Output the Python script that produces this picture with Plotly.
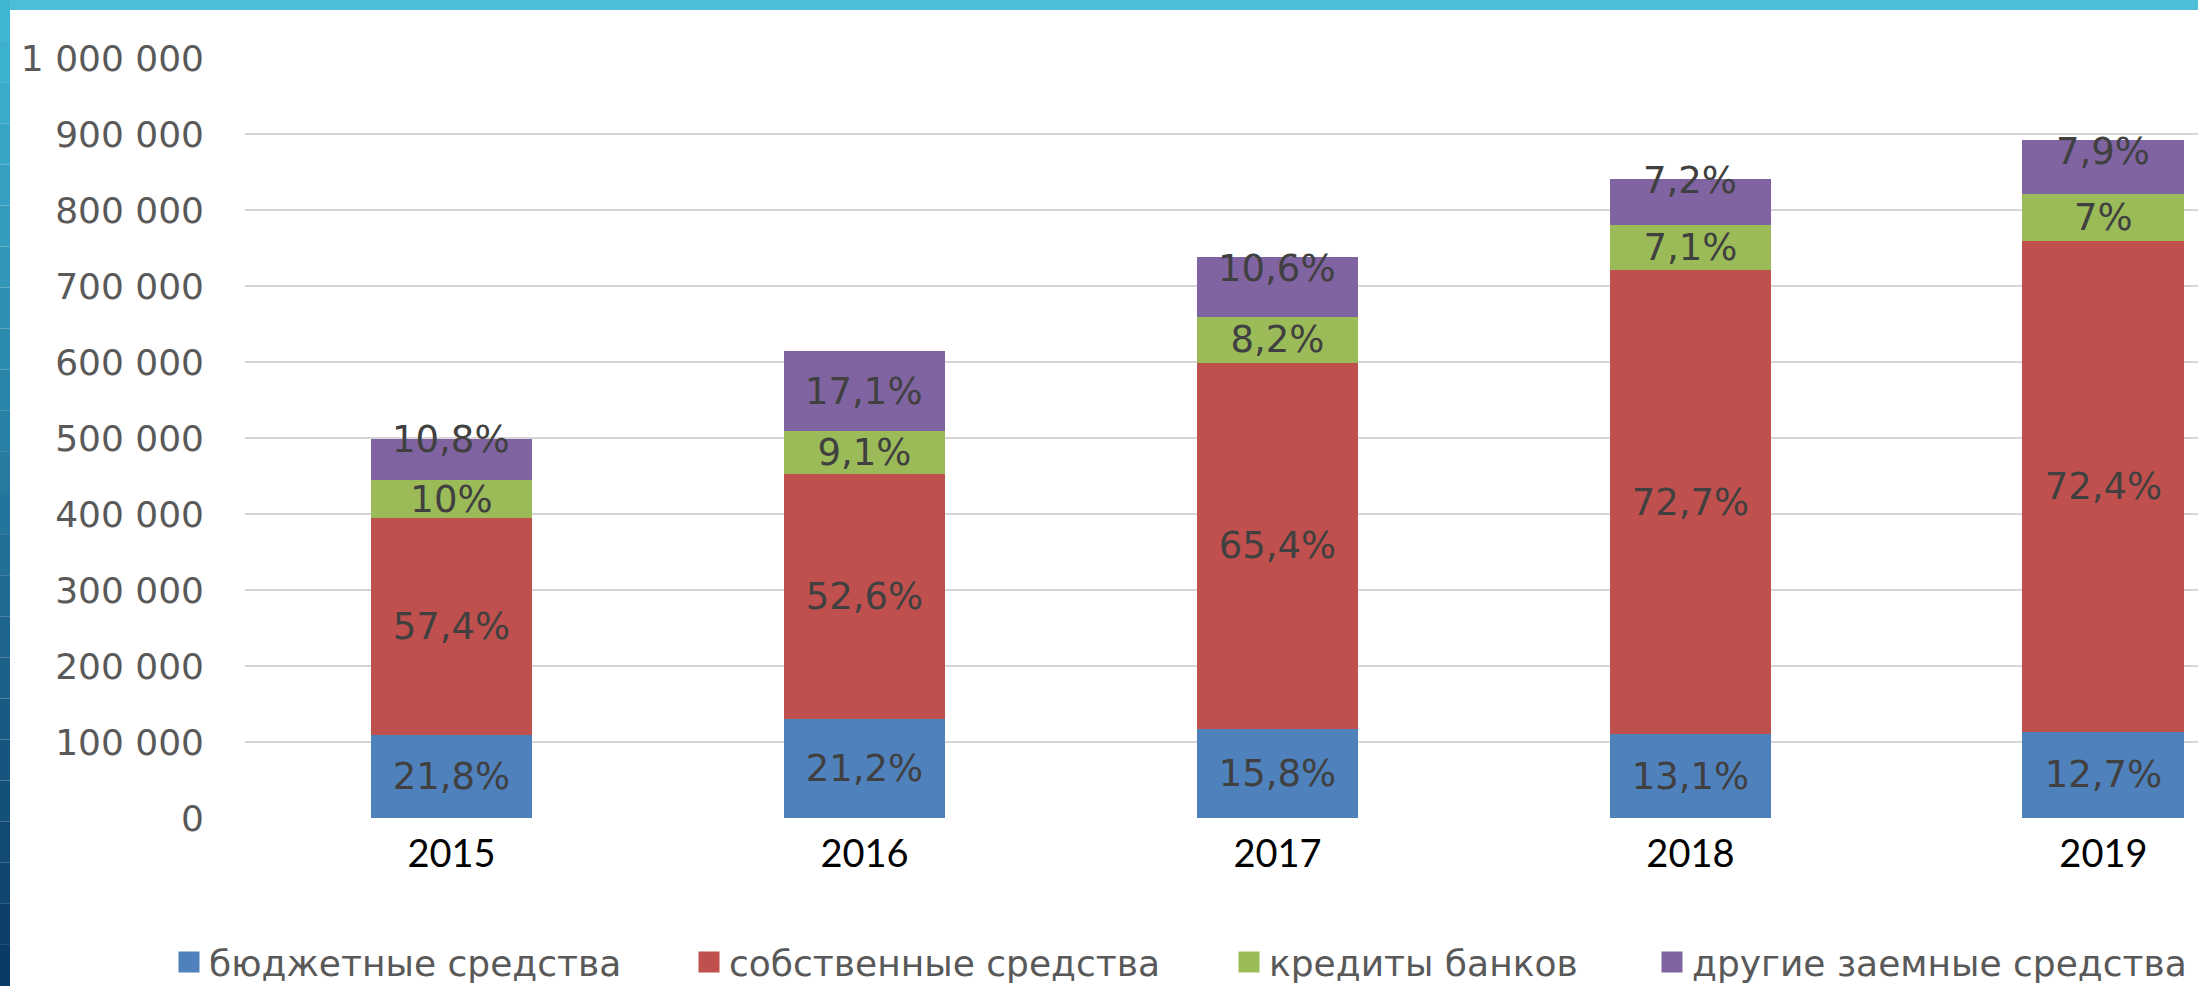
import plotly.graph_objects as go

years = ["2015", "2016", "2017", "2018", "2019"]
series_names = ["бюджетные средства", "собственные средства", "кредиты банков", "другие заемные средства"]
budget = [108600, 130200, 116600, 110000, 113300]
own = [285900, 323000, 482700, 610700, 645800]
bank = [49800, 55900, 60500, 59600, 62400]
other = [53800, 105000, 78200, 60500, 70500]
budget_lbl = ["21,8%", "21,2%", "15,8%", "13,1%", "12,7%"]
own_lbl = ["57,4%", "52,6%", "65,4%", "72,7%", "72,4%"]
bank_lbl = ["10%", "9,1%", "8,2%", "7,1%", "7%"]
other_lbl = ["10,8%", "17,1%", "10,6%", "7,2%", "7,9%"]
y_ticks = [0, 100000, 200000, 300000, 400000, 500000, 600000, 700000, 800000, 900000, 1000000]

# ---- styling ----
colors = ["#4F81BD", "#C0504D", "#9BBB59", "#8064A2"]
other_label_shift = [20, 0, 18, 21, 15]   # px, label nudges for the top segment
legend_px = [169, 689, 1229, 1652]        # left edge of each legend entry (px)
W, H = 2198, 986
ML, MR, MT, MB = 245, 0, 58, 168
LBL_FONT = dict(family="DejaVu Sans", size=37, color="#404040")

pw = W - ML - MR
ph = H - MT - MB
def px_x(p):
    return (p - ML) / pw
def px_y(p):
    return (H - MB - p) / ph

fig = go.Figure()
all_vals = [budget, own, bank, other]
all_lbls = [budget_lbl, own_lbl, bank_lbl, None]
for i, (name, vals, lbls, col) in enumerate(zip(series_names, all_vals, all_lbls, colors)):
    fig.add_trace(go.Bar(
        x=years, y=vals, name=name, showlegend=False,
        marker=dict(color=col, line=dict(width=0)),
        text=lbls, textposition="inside", insidetextanchor="middle",
        textangle=0, constraintext="none", textfont=LBL_FONT,
        hoverinfo="skip",
    ))

# legend proxies (bigger square symbols), one legend per entry
for i, (name, col) in enumerate(zip(series_names, colors)):
    lg = "legend" if i == 0 else "legend%d" % (i + 1)
    fig.add_trace(go.Scatter(
        x=[None], y=[None], mode="markers", name=name, legend=lg, showlegend=True,
        marker=dict(symbol="square", size=20, color=col, line=dict(width=5, color=col)),
        hoverinfo="skip",
    ))

# labels of the top segment (category index on the x axis)
annotations = []
for k, yr in enumerate(years):
    base = budget[k] + own[k] + bank[k]
    annotations.append(dict(x=k, y=base + other[k] / 2, xref="x", yref="y",
                            text=other_lbl[k], showarrow=False, yanchor="middle",
                            xanchor="center", yshift=other_label_shift[k], font=LBL_FONT))

# slide decoration: top bar and left gradient bar
shapes = [dict(type="rect", xref="paper", yref="paper", x0=px_x(0), x1=px_x(W),
               y0=px_y(10), y1=px_y(0), fillcolor="#4DBED8", line=dict(width=0), layer="above")]
n = 24
c0 = (0x3E, 0xB6, 0xD4)
c1 = (0x0C, 0x3A, 0x66)
for i in range(n):
    t = i / (n - 1)
    c = tuple(int(round(c0[k] + (c1[k] - c0[k]) * t)) for k in range(3))
    shapes.append(dict(type="rect", xref="paper", yref="paper",
                       x0=px_x(0), x1=px_x(10),
                       y0=px_y(H * (i + 1) / n), y1=px_y(H * i / n),
                       fillcolor="rgb(%d,%d,%d)" % c, line=dict(width=0), layer="above"))

legend_common = dict(orientation="h", xanchor="left", yanchor="middle", y=px_y(962),
                     font=dict(family="DejaVu Sans", size=36, color="#595959"),
                     itemwidth=30, bgcolor="rgba(0,0,0,0)", borderwidth=0)
legends = {}
for i, lx in enumerate(legend_px):
    key = "legend" if i == 0 else "legend%d" % (i + 1)
    legends[key] = dict(legend_common, x=px_x(lx))

fig.update_layout(
    width=W, height=H,
    margin=dict(l=ML, r=MR, t=MT, b=MB, pad=0, autoexpand=False),
    barmode="stack", bargap=0.608,
    paper_bgcolor="white", plot_bgcolor="white",
    separators=", ",
    showlegend=True,
    shapes=shapes,
    annotations=annotations,
    xaxis=dict(type="category", range=[-0.5, 4.229], showgrid=False, zeroline=False, showline=False,
               ticks="", tickfont=dict(family="Lato", size=38, color="#000000"),
               ticklabelstandoff=10, fixedrange=True),
    yaxis=dict(range=[0, 1000000], tickvals=y_ticks, tickformat=",d",
               showgrid=True, gridcolor="#D6D6D6", gridwidth=2,
               zeroline=False, showline=False, ticks="",
               tickfont=dict(family="DejaVu Sans", size=36, color="#595959"),
               ticklabelstandoff=40, fixedrange=True),
    **legends,
)

fig.write_html("out.html", config={"displayModeBar": False},
               post_script="document.body.style.margin='0';document.body.style.overflow='hidden';")
